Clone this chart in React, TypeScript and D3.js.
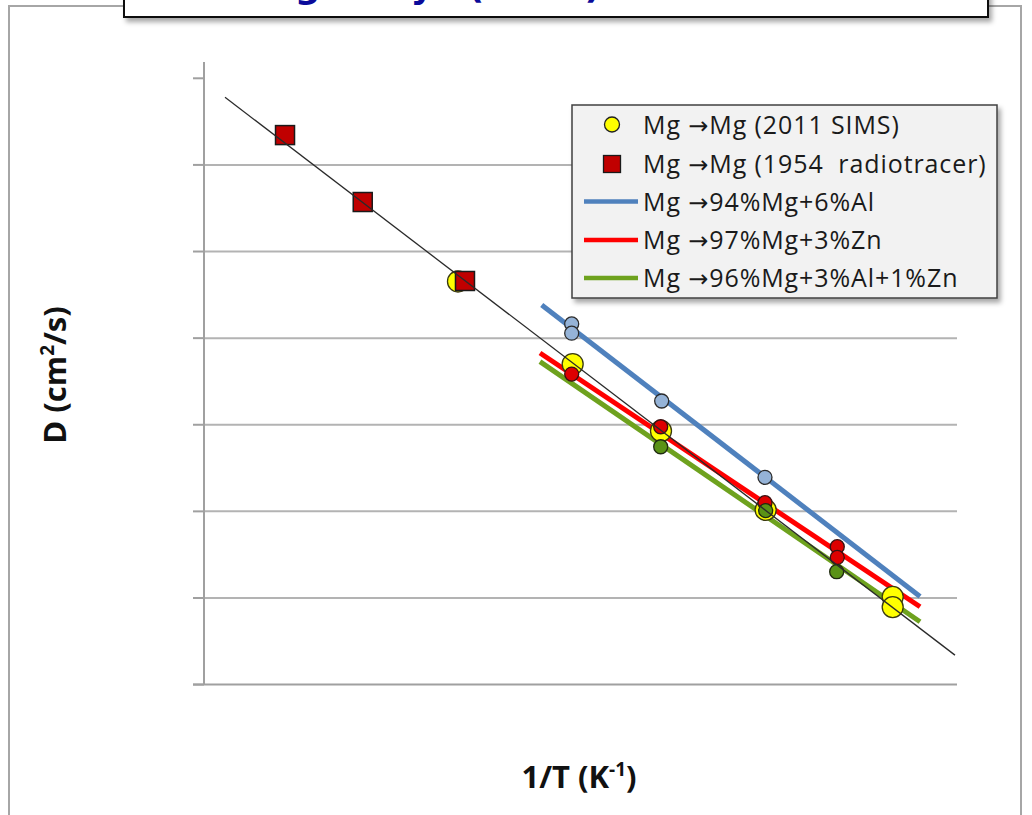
import React from "react";
import * as d3 from "d3";

// 1/T values in units of 10^-3 K^-1, D in cm^2/s
const sims2011X = [1.2873, 1.4396, 1.5569, 1.6959, 1.8646, 1.8646];
const sims2011D = [4.51e-10, 5.02e-11, 8.47e-12, 1.04e-12, 1.03e-13, 7.85e-14];
const tracer1954X = [1.0576, 1.1608, 1.2966];
const tracer1954D = [2.21e-8, 3.73e-9, 4.57e-10];
const al6X = [1.4383, 1.4383, 1.5578, 1.695];
const al6D = [1.46e-10, 1.14e-10, 1.88e-11, 2.47e-12];
const zn3X = [1.4383, 1.5565, 1.695, 1.791, 1.791];
const zn3D = [3.85e-11, 9.48e-12, 1.26e-12, 3.91e-13, 2.94e-13];
const alznX = [1.5565, 1.6959, 1.7902];
const alznD = [5.57e-12, 1.02e-12, 2.01e-13];

const selfFitX = [0.9779, 1.9473];
const selfFitD = [6.04e-8, 2.19e-14];
const al6FitX = [1.3985, 1.9009];
const al6FitD = [2.42e-10, 1.04e-13];
const zn3FitX = [1.3962, 1.9009];
const zn3FitD = [6.73e-11, 7.93e-14];
const alznFitX = [1.3962, 1.9009];
const alznFitD = [5.35e-11, 5.32e-14];

const yTicks = [1e-14, 1e-13, 1e-12, 1e-11, 1e-10, 1e-9, 1e-8, 1e-7];
const gridTicks = [1e-13, 1e-12, 1e-11, 1e-10, 1e-9, 1e-8];

const legendFrom = ["Mg ", "Mg ", "Mg ", "Mg ", "Mg "];
const legendTo = [
  "Mg (2011 SIMS)",
  "Mg (1954  radiotracer)",
  "94%Mg+6%Al",
  "97%Mg+3%Zn",
  "96%Mg+3%Al+1%Zn",
];

const C = {
  yellow: "#ffff00",
  square: "#c00000",
  blueLine: "#4f81bd",
  bluePt: "#95b3d7",
  redLine: "#ff0000",
  redPt: "#dd0000",
  greenLine: "#6ea21e",
  greenPt: "#5a9216",
};

export default function App() {
  const x = d3.scaleLinear().domain([0.95, 1.95]).range([204, 957]);
  const y = d3.scaleLog().domain([1e-14, 1e-7]).range([684.6, 78.3]);
  const line = d3
    .line<[number, number]>()
    .x((d) => x(d[0]))
    .y((d) => y(d[1]));
  const pts = (xs: number[], ds: number[]) => xs.map((v, i) => [v, ds[i]] as [number, number]);

  const legY = [124.5, 164, 201.5, 240, 278];

  return (
    <svg
      width={1032}
      height={815}
      style={{ position: "absolute", left: 0, top: 0, display: "block", background: "#fff" }}
    >
      <defs>
        <filter id="shadow" x="-5%" y="-20%" width="115%" height="160%">
          <feDropShadow dx="3" dy="4" stdDeviation="2.5" floodColor="#000" floodOpacity="0.35" />
        </filter>
      </defs>
      {/* outer frame */}
      <rect x={9} y={6} width={1012} height={840} fill="#fff" stroke="#a6a6a6" strokeWidth={2} />

      {/* gridlines */}
      {gridTicks.map((t) => (
        <line key={"g" + t} x1={204} x2={957} y1={y(t)} y2={y(t)} stroke="#b3b3b3" strokeWidth={2} />
      ))}
      {/* axes */}
      <line x1={204} x2={204} y1={62} y2={y(1e-14)} stroke="#a0a0a0" strokeWidth={2} />
      <line x1={193} x2={957} y1={y(1e-14)} y2={y(1e-14)} stroke="#a0a0a0" strokeWidth={2} />
      {yTicks.map((t) => (
        <line key={"t" + t} x1={193} x2={204} y1={y(t)} y2={y(t)} stroke="#a0a0a0" strokeWidth={2} />
      ))}

      {/* fit lines */}
      <path d={line(pts(al6FitX, al6FitD)) || ""} stroke={C.blueLine} strokeWidth={5} fill="none" />
      <path d={line(pts(zn3FitX, zn3FitD)) || ""} stroke={C.redLine} strokeWidth={5} fill="none" />
      <path d={line(pts(alznFitX, alznFitD)) || ""} stroke={C.greenLine} strokeWidth={5} fill="none" />

      {/* points */}
      {pts(sims2011X, sims2011D).map((p, i) => (
        <circle key={"y" + i} cx={x(p[0])} cy={y(p[1])} r={10.5} fill={C.yellow} stroke="#3a3a10" strokeWidth={1.3} />
      ))}
      {pts(al6X, al6D).map((p, i) => (
        <circle key={"b" + i} cx={x(p[0])} cy={y(p[1])} r={7} fill={C.bluePt} stroke="#2b2b2b" strokeWidth={1.3} />
      ))}
      {pts(zn3X, zn3D).map((p, i) => (
        <circle key={"r" + i} cx={x(p[0])} cy={y(p[1])} r={7} fill={C.redPt} stroke="#3a1010" strokeWidth={1.3} />
      ))}
      {pts(alznX, alznD).map((p, i) => (
        <circle key={"gr" + i} cx={x(p[0])} cy={y(p[1])} r={7} fill={C.greenPt} stroke="#1f2a10" strokeWidth={1.3} />
      ))}
      {pts(tracer1954X, tracer1954D).map((p, i) => (
        <rect
          key={"s" + i}
          x={x(p[0]) - 9.5}
          y={y(p[1]) - 9.5}
          width={19}
          height={19}
          fill={C.square}
          stroke="#1a1a1a"
          strokeWidth={1.5}
        />
      ))}
      <path d={line(pts(selfFitX, selfFitD)) || ""} stroke="#2a2a2a" strokeWidth={1.3} fill="none" />

      {/* axis titles */}
      <text
        x={579}
        y={788}
        textAnchor="middle"
        fontFamily="'Open Sans', sans-serif"
        fontWeight="bold"
        fontSize={31}
        fill="#111"
      >
        1/T (K
        <tspan fontSize={19} dy={-12}>-1</tspan>
        <tspan dy={12}>)</tspan>
      </text>
      <text
        transform="translate(66,375) rotate(-90)"
        textAnchor="middle"
        fontFamily="'Open Sans', sans-serif"
        fontWeight="bold"
        fontSize={31}
        fill="#111"
      >
        D (cm
        <tspan fontSize={19} dy={-12}>2</tspan>
        <tspan dy={12}>/s)</tspan>
      </text>

      {/* legend */}
      <rect x={572} y={105} width={425} height={193} fill="#f2f2f2" stroke="#404040" strokeWidth={1.5} filter="url(#shadow)" />
      <circle cx={612} cy={legY[0]} r={7.5} fill={C.yellow} stroke="#222" strokeWidth={1.3} />
      <rect x={603.5} y={legY[1] - 8.5} width={17} height={17} fill={C.square} stroke="#1a1a1a" strokeWidth={1.3} />
      <line x1={584} x2={638} y1={legY[2]} y2={legY[2]} stroke={C.blueLine} strokeWidth={4.5} />
      <line x1={584} x2={638} y1={legY[3]} y2={legY[3]} stroke={C.redLine} strokeWidth={4.5} />
      <line x1={584} x2={638} y1={legY[4]} y2={legY[4]} stroke={C.greenLine} strokeWidth={4.5} />
      {legendTo.map((l, i) => (
        <text
          key={l}
          x={643}
          y={legY[i] + 9}
          fontFamily="'Open Sans', sans-serif"
          fontSize={25}
          letterSpacing={0.9}
          fill="#1a1a1a"
          style={{ whiteSpace: "pre" }}
        >
          {legendFrom[i]}
          <tspan fontFamily="'DejaVu Sans', sans-serif" fontSize={24}>{"\u2192"}</tspan>
          {l}
        </text>
      ))}

      {/* title box (mostly cut off at top) */}
      <rect x={124} y={-30} width={864} height={47} fill="#fff" stroke="#111" strokeWidth={2} filter="url(#shadow)" />
      <text x={259} y={-2} fontFamily="'DejaVu Sans', sans-serif" fontWeight="bold" fontSize={36} fill="#0a0a9a">
        Mg Alloys (2011)
      </text>
    </svg>
  );
}
